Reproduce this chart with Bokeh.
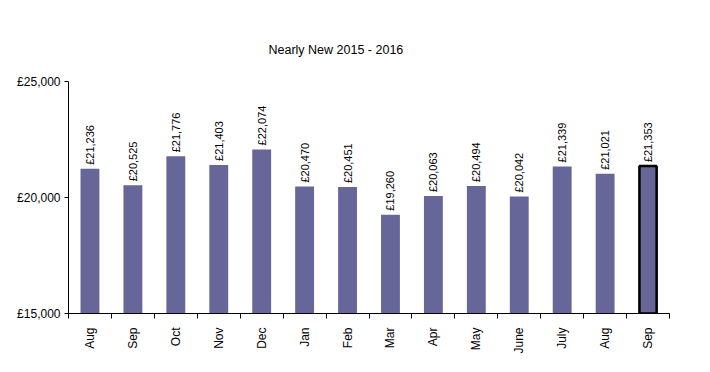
import math
from bokeh.plotting import figure
from bokeh.models import ColumnDataSource, FixedTicker, Range1d, Title
from bokeh.core.properties import value
from bokeh.embed import file_html
from bokeh.resources import INLINE

title_text = "Nearly New 2015 - 2016"
months = ["Aug", "Sep", "Oct", "Nov", "Dec", "Jan", "Feb", "Mar", "Apr",
          "May", "June", "July", "Aug", "Sep"]
prices = [21236, 20525, 21776, 21403, 22074, 20470, 20451, 19260, 20063,
          20494, 20042, 21339, 21021, 21353]
y_ticks = [15000, 20000, 25000]
y_tick_labels = ["£15,000", "£20,000", "£25,000"]

FONT = "Liberation Sans"
BAR = "#666699"

n = len(months)
centers = [i + 0.5 for i in range(n)]
bounds = list(range(n + 1))
labels = ["£{:,}".format(v) for v in prices]

src = ColumnDataSource(dict(x=centers, top=prices, lab=labels))

p = figure(width=702, height=364, output_backend="svg", toolbar_location=None,
           x_range=Range1d(0, n), y_range=Range1d(y_ticks[0], y_ticks[-1]),
           min_border_left=68, min_border_right=33, min_border_top=81,
           min_border_bottom=51, title=None)
p.outline_line_color = None
p.xgrid.grid_line_color = None
p.ygrid.grid_line_color = None
p.background_fill_color = "white"
p.border_fill_color = "white"

p.vbar(x="x", top="top", bottom=y_ticks[0], width=0.44, source=src,
       fill_color=BAR, line_color=None)
# highlighted last bar
last = ColumnDataSource(dict(x=[centers[-1]], top=[prices[-1]]))
p.vbar(x="x", top="top", bottom=y_ticks[0], width=0.40, source=last,
       fill_color=BAR, line_color="black", line_width=2.5)

p.text(x="x", y="top", text="lab", source=src, angle=math.pi / 2,
       text_align="left", text_baseline="middle", y_offset=-4,
       text_font=value(FONT), text_font_size="11px", text_color="black")

# x axis
xa = p.xaxis[0]
xa.ticker = FixedTicker(ticks=centers, minor_ticks=bounds)
xa.major_label_overrides = {c: m for c, m in zip(centers, months)}
xa.major_tick_line_color = None
xa.major_tick_out = 0
xa.major_tick_in = 0
xa.minor_tick_out = 5
xa.minor_tick_in = 0
xa.minor_tick_line_color = "black"
xa.major_label_orientation = math.pi / 2
xa.major_label_standoff = 9
xa.major_label_text_font = FONT
xa.major_label_text_font_size = "12px"
xa.major_label_text_color = "black"
xa.axis_line_color = "black"

# y axis
ya = p.yaxis[0]
ya.ticker = FixedTicker(ticks=y_ticks, minor_ticks=[])
ya.major_label_overrides = {t: l for t, l in zip(y_ticks, y_tick_labels)}
ya.major_tick_out = 4
ya.major_tick_in = 0
ya.major_label_standoff = 4
ya.major_label_text_font = FONT
ya.major_label_text_font_size = "12px"
ya.major_label_text_color = "black"
ya.axis_line_color = "black"

p.add_layout(Title(text=title_text, align="left", offset=200,
                   standoff=49, text_font=FONT, text_font_size="12.5px",
                   text_font_style="normal", text_color="black"), "above")

open("out.html", "w").write(file_html(p, INLINE))
